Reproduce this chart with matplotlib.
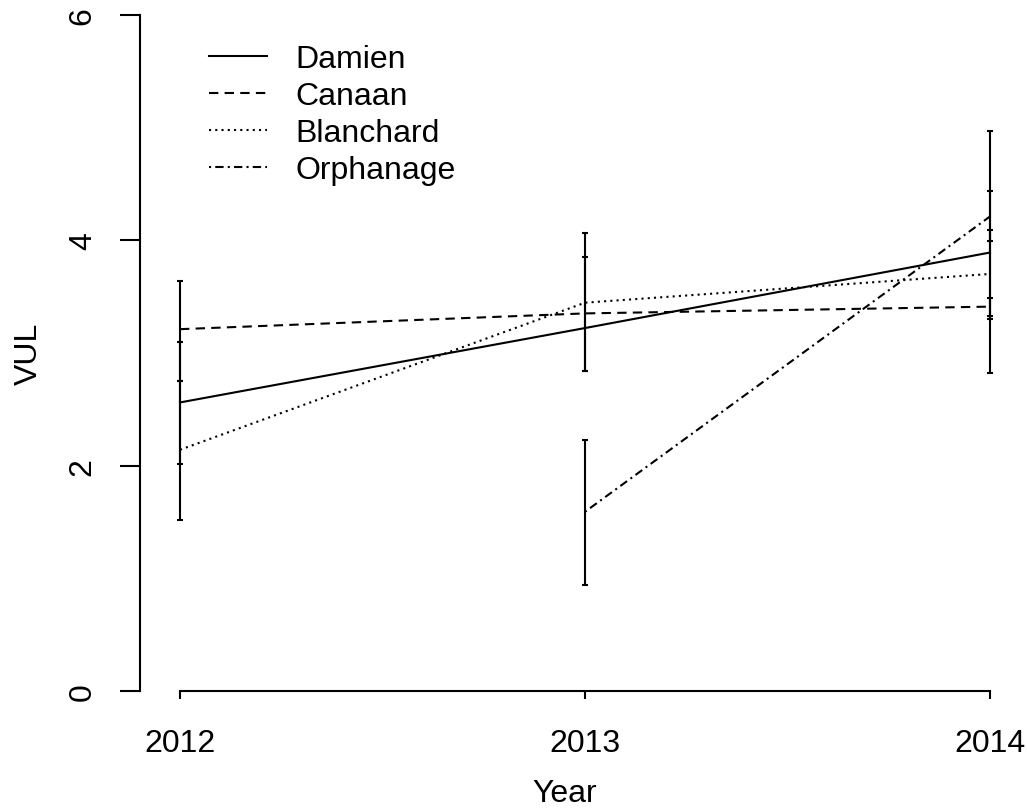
import numpy as np
import matplotlib
matplotlib.use("Agg")
import matplotlib.pyplot as plt
from matplotlib.lines import Line2D

plt.rcParams['font.family'] = ['Liberation Sans', 'DejaVu Sans']

years = [2012, 2013, 2014]
nan = np.nan

damien_mean = [2.56, 3.22, 3.89]
damien_lo = [2.01, nan, 2.82]
damien_hi = [3.10, nan, 4.97]

canaan_mean = [3.21, 3.35, 3.41]
canaan_lo = [2.75, 2.84, 3.33]
canaan_hi = [3.64, 3.85, 3.49]

blanchard_mean = [2.14, 3.445, 3.70]
blanchard_lo = [1.52, 2.84, 3.30]
blanchard_hi = [2.75, 4.06, 4.09]

orphanage_mean = [nan, 1.59, 4.21]
orphanage_lo = [nan, 0.94, 3.99]
orphanage_hi = [nan, 2.23, 4.44]

series = [
    ("Damien", damien_mean, damien_lo, damien_hi, '-'),
    ("Canaan", canaan_mean, canaan_lo, canaan_hi, (0, (4.5, 3))),
    ("Blanchard", blanchard_mean, blanchard_lo, blanchard_hi, (0, (1, 2))),
    ("Orphanage", orphanage_mean, orphanage_lo, orphanage_hi, (0, (1, 2, 4, 2))),
]

W, H = 1027, 812
fig = plt.figure(figsize=(W / 100, H / 100), dpi=100)
left_px, right_px = 140, 990
bottom_px, top_px = 692, 15.7
ax = fig.add_axes([left_px / W, (H - bottom_px) / H,
                   (right_px - left_px) / W, (bottom_px - top_px) / H])
x_left = 2012 - (180 - left_px) / 405.0
ax.set_xlim(x_left, 2014)
ax.set_ylim(0, 6)

lw = 1.5
for name, mean, lo, hi, ls in series:
    ax.plot(years, mean, color='black', linestyle=ls, linewidth=lw, clip_on=False)
    m = np.array(mean, float)
    l = np.array(lo, float)
    h = np.array(hi, float)
    ok = ~np.isnan(l)
    yr = np.array(years)[ok]
    ax.errorbar(yr, m[ok], yerr=[m[ok] - l[ok], h[ok] - m[ok]], fmt='none',
                ecolor='black', elinewidth=lw, capsize=2.5, capthick=lw,
                clip_on=False)

handles = [Line2D([], [], color='black', linestyle=ls, linewidth=lw)
           for _, _, _, _, ls in series]
labels = [s[0] for s in series]
ax.legend(handles, labels, loc='upper left', bbox_to_anchor=(0.0665, 0.975),
          frameon=False, fontsize=23, handlelength=1.8, handletextpad=0.9,
          labelspacing=0.22, borderaxespad=0)

for s in ['top', 'right']:
    ax.spines[s].set_visible(False)
ax.spines['left'].set_bounds(0, 6)
ax.spines['bottom'].set_bounds(2012, 2014)
for s in ['left', 'bottom']:
    ax.spines[s].set_linewidth(1.5)

ax.set_xticks(years)
ax.set_xticklabels([str(y) for y in years])
ax.set_yticks([0, 2, 4, 6])
ax.set_yticklabels(['0', '2', '4', '6'], rotation=90, va='center')
ax.tick_params(axis='y', length=14.4, width=1.5, labelsize=23, pad=16)
ax.tick_params(axis='x', length=6, width=1.5, labelsize=23, pad=21)

ax.set_xlabel('Year', fontsize=23, labelpad=14)
ax.set_ylabel('VUL', fontsize=23, labelpad=17)

fig.savefig('out.png', dpi=100)
